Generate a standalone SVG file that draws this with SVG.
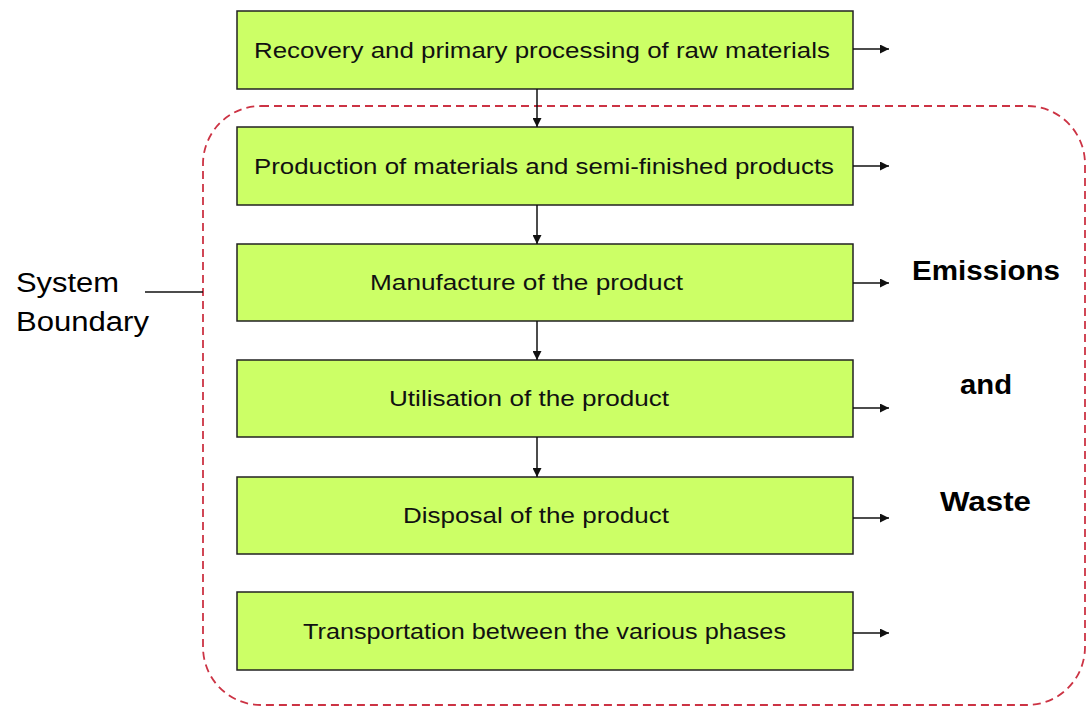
<svg xmlns="http://www.w3.org/2000/svg" width="1089" height="709" viewBox="0 0 1089 709">
<style>
.box{fill:#ccff66;stroke:#222;stroke-width:1.5}
.bt{font-family:"Liberation Sans",Arial,sans-serif;font-size:22px;fill:#111}
.big{font-family:"Liberation Sans",Arial,sans-serif;font-size:27px;fill:#000}
.em{font-family:"Liberation Sans",Arial,sans-serif;font-size:28px;font-weight:bold;fill:#000}
.ln{stroke:#111;stroke-width:1.5;fill:none}
</style>
<defs>
<marker id="ah" viewBox="0 0 10 10" refX="10" refY="5" markerWidth="10" markerHeight="9" markerUnits="userSpaceOnUse" orient="auto"><path d="M0,0 L10,5 L0,10 z" fill="#111"/></marker>
</defs>
<rect width="1089" height="709" fill="#fff"/>
<g id="boundary">
<rect x="203" y="106" width="882" height="599" rx="58" ry="58" fill="none" stroke="#cc3344" stroke-width="1.8" stroke-dasharray="8,5"/>
</g>
<g id="label-system-boundary">
<text class="big" x="16" y="292" textLength="103" lengthAdjust="spacingAndGlyphs">System</text>
<text class="big" x="16" y="331" textLength="133" lengthAdjust="spacingAndGlyphs">Boundary</text>
</g>
<g id="n1"><rect class="box" x="237" y="11" width="616" height="78"/><text class="bt" x="254" y="58" textLength="576" lengthAdjust="spacingAndGlyphs">Recovery and primary processing of raw materials</text></g>
<g id="n2"><rect class="box" x="237" y="127" width="616" height="78"/><text class="bt" x="254" y="174" textLength="580" lengthAdjust="spacingAndGlyphs">Production of materials and semi-finished products</text></g>
<g id="n3"><rect class="box" x="237" y="244" width="616" height="77"/><text class="bt" x="370" y="290" textLength="313" lengthAdjust="spacingAndGlyphs">Manufacture of the product</text></g>
<g id="n4"><rect class="box" x="237" y="360" width="616" height="77"/><text class="bt" x="389" y="406" textLength="280" lengthAdjust="spacingAndGlyphs">Utilisation of the product</text></g>
<g id="n5"><rect class="box" x="237" y="477" width="616" height="77"/><text class="bt" x="403" y="523" textLength="266" lengthAdjust="spacingAndGlyphs">Disposal of the product</text></g>
<g id="n6"><rect class="box" x="237" y="592" width="616" height="78"/><text class="bt" x="303" y="639" textLength="483" lengthAdjust="spacingAndGlyphs">Transportation between the various phases</text></g>
<g id="outputs">
<text class="em" x="912" y="280" textLength="148" lengthAdjust="spacingAndGlyphs">Emissions</text>
<text class="em" x="960" y="394" textLength="52" lengthAdjust="spacingAndGlyphs">and</text>
<text class="em" x="940" y="511" textLength="91" lengthAdjust="spacingAndGlyphs">Waste</text>
</g>
<g id="connectors">
<path class="ln" d="M145,292 H203"/>
<path class="ln" d="M537,89 V127" marker-end="url(#ah)"/>
<path class="ln" d="M537,205 V244" marker-end="url(#ah)"/>
<path class="ln" d="M537,321 V360" marker-end="url(#ah)"/>
<path class="ln" d="M537,437 V477" marker-end="url(#ah)"/>
<path class="ln" d="M853,49 H889" marker-end="url(#ah)"/>
<path class="ln" d="M853,166 H889" marker-end="url(#ah)"/>
<path class="ln" d="M853,283 H889" marker-end="url(#ah)"/>
<path class="ln" d="M853,408 H889" marker-end="url(#ah)"/>
<path class="ln" d="M853,518 H889" marker-end="url(#ah)"/>
<path class="ln" d="M853,633 H889" marker-end="url(#ah)"/>
</g>
</svg>
